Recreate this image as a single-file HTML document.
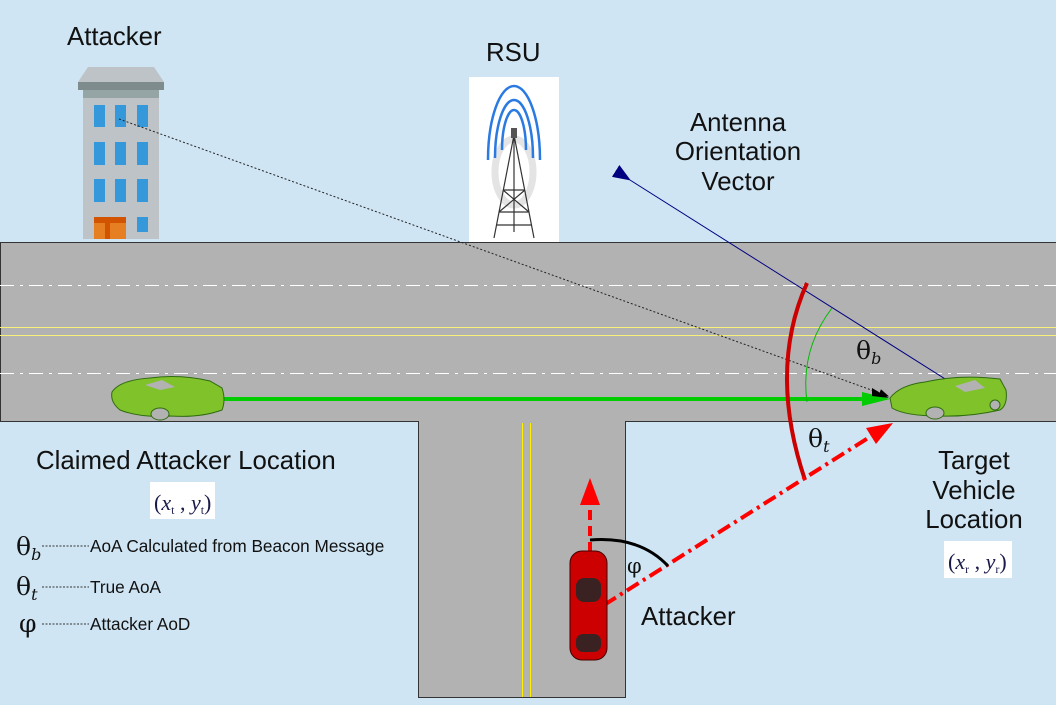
<!DOCTYPE html>
<html><head><meta charset="utf-8"><style>
body{margin:0;width:1056px;height:705px;overflow:hidden;background:#cfe5f3;font-family:"Liberation Sans",sans-serif}
svg{position:absolute;left:0;top:0}
</style></head><body>
<svg width="1056" height="705" viewBox="0 0 1056 705" font-family="Liberation Sans, sans-serif">
<defs>
<marker id="ab" markerWidth="10" markerHeight="8" refX="9" refY="4" orient="auto" markerUnits="userSpaceOnUse"><path d="M0,0 L10,4 L0,8z" fill="#000"/></marker>
<marker id="ablue" markerWidth="18" markerHeight="14" refX="1" refY="7" orient="auto" markerUnits="userSpaceOnUse"><path d="M18,0 L0,7 L18,14z" fill="#000080"/></marker>
</defs>
<rect x="0" y="0" width="1056" height="705" fill="#cfe5f3"/>
<rect x="0.5" y="242.5" width="1056" height="179" fill="#b2b2b2" stroke="#333"/>
<rect x="418.5" y="422" width="207" height="275.5" fill="#b2b2b2" stroke="#333"/>
<rect x="419" y="420" width="206" height="4" fill="#b2b2b2"/>
<line x1="0" y1="285.5" x2="1056" y2="285.5" stroke="#fff" stroke-dasharray="14,6,3,6"/>
<line x1="0" y1="373.5" x2="1056" y2="373.5" stroke="#fff" stroke-dasharray="14,6,3,6"/>
<line x1="0" y1="327.5" x2="1056" y2="327.5" stroke="#f4f07a"/>
<line x1="0" y1="335.5" x2="1056" y2="335.5" stroke="#f4f07a"/>
<line x1="522.5" y1="423" x2="522.5" y2="697" stroke="#ffee00"/>
<line x1="530.5" y1="423" x2="530.5" y2="697" stroke="#ffee00"/>
<polygon points="88,67 154,67 164,82 78,82" fill="#bec3c7"/>
<rect x="78" y="82" width="86" height="8" fill="#7f8c8d"/>
<rect x="83" y="90" width="76" height="8" fill="#95a5a6"/>
<rect x="83" y="98" width="76" height="141" fill="#bdc3c7"/>
<g fill="#3498db">
<rect x="94" y="105" width="11" height="22"/><rect x="115" y="105" width="11" height="22"/><rect x="137" y="105" width="11" height="22"/>
<rect x="94" y="142" width="11" height="23"/><rect x="115" y="142" width="11" height="23"/><rect x="137" y="142" width="11" height="23"/>
<rect x="94" y="179" width="11" height="23"/><rect x="115" y="179" width="11" height="23"/><rect x="137" y="179" width="11" height="23"/>
<rect x="137" y="217" width="11" height="15"/>
</g>
<rect x="94" y="217" width="32" height="22" fill="#e67e22"/>
<rect x="94" y="217" width="32" height="6" fill="#d35400"/>
<rect x="105" y="223" width="5" height="16" fill="#d35400"/>
<rect x="469" y="77" width="90" height="165" fill="#fff"/>
<ellipse cx="514" cy="172" rx="19" ry="33" fill="none" stroke="#e4e4e4" stroke-width="7"/>
<g fill="none" stroke="#2a7ae2" stroke-width="2.5">
<path d="M488,160 A26,74 0 1 1 540,160" />
<path d="M495,158 A19,58 0 1 1 533,158" />
<path d="M502,150 A12,40 0 1 1 526,150" />
</g>
<g stroke="#333" stroke-width="1.2" fill="none">
<line x1="514" y1="135" x2="494" y2="238"/><line x1="514" y1="135" x2="534" y2="238"/>
<line x1="514" y1="135" x2="514" y2="232"/>
<line x1="503" y1="190" x2="525" y2="190"/><line x1="499" y1="212" x2="529" y2="212"/>
<line x1="497" y1="225" x2="531" y2="225"/>
<line x1="503" y1="190" x2="529" y2="212"/><line x1="525" y1="190" x2="499" y2="212"/>
</g>
<rect x="511" y="128" width="6" height="10" fill="#555"/>
<g font-size="25.8" fill="#111">
<text x="67" y="45">Attacker</text>
<text x="486" y="61">RSU</text>
<text x="738" y="131" text-anchor="middle">Antenna</text>
<text x="738" y="160" text-anchor="middle">Orientation</text>
<text x="738" y="190" text-anchor="middle">Vector</text>
<text x="36" y="469">Claimed Attacker Location</text>
<text x="974" y="469" text-anchor="middle">Target</text>
<text x="974" y="499" text-anchor="middle">Vehicle</text>
<text x="974" y="528" text-anchor="middle">Location</text>
<text x="641" y="625">Attacker</text>
</g>
<rect x="150" y="482" width="65" height="37" fill="#fff"/>
<text x="154" y="510" font-family="Liberation Serif, serif" font-size="22" fill="#1a1a4a">(<tspan font-style="italic">x</tspan><tspan font-size="12" dy="4">t</tspan><tspan dy="-4"> , </tspan><tspan font-style="italic">y</tspan><tspan font-size="12" dy="4">t</tspan><tspan dy="-4">)</tspan></text>
<rect x="944" y="541" width="68" height="37" fill="#fff"/>
<text x="948" y="569" font-family="Liberation Serif, serif" font-size="22" fill="#1a1a4a">(<tspan font-style="italic">x</tspan><tspan font-size="12" dy="4">r</tspan><tspan dy="-4"> , </tspan><tspan font-style="italic">y</tspan><tspan font-size="12" dy="4">r</tspan><tspan dy="-4">)</tspan></text>
<g font-family="DejaVu Serif, serif" font-size="25" fill="#111">
<text x="16" y="555">θ<tspan font-size="16" font-style="italic" dy="5">b</tspan></text>
<text x="16" y="595">θ<tspan font-size="16" font-style="italic" dy="5">t</tspan></text>
<text x="19" y="632">φ</text>
<text x="856" y="359">θ<tspan font-size="16" font-style="italic" dy="5">b</tspan></text>
<text x="808" y="447">θ<tspan font-size="16" font-style="italic" dy="5">t</tspan></text>
<text x="627" y="573" font-size="21">φ</text>
</g>
<g stroke="#333" stroke-dasharray="2,1.5" stroke-width="1">
<line x1="42" y1="546" x2="89" y2="546"/><line x1="42" y1="587" x2="89" y2="587"/><line x1="42" y1="624" x2="89" y2="624"/>
</g>
<g font-size="17.2" fill="#111">
<text x="90" y="552">AoA Calculated from Beacon Message</text>
<text x="90" y="593">True AoA</text>
<text x="90" y="630">Attacker AoD</text>
</g>
<line x1="119" y1="119" x2="888" y2="396" stroke="#222" stroke-dasharray="2,2" marker-end="url(#ab)"/>
<line x1="222" y1="399" x2="870" y2="399" stroke="#00cc00" stroke-width="4"/>
<polygon points="862,392 890,399 862,406" fill="#00cc00"/>
<polygon points="872,388 889,398 872,396" fill="#000"/>
<line x1="950" y1="382" x2="630" y2="180" stroke="#000080" stroke-width="1" marker-end="url(#ablue)"/>
<path d="M807,283 Q768,370 805,480" fill="none" stroke="#cc0000" stroke-width="4"/>
<path d="M832,308 Q800,350 807,402" fill="none" stroke="#00bb00" stroke-width="1"/>
<line x1="604" y1="605" x2="876" y2="433" stroke="#ff0000" stroke-width="4" stroke-dasharray="14,5,3,5"/>
<polygon points="893,423 866,428 876,444" fill="#ff0000"/>
<line x1="590" y1="600" x2="590" y2="502" stroke="#ff0000" stroke-width="4" stroke-dasharray="10,6"/>
<polygon points="580,505 590,478 600,505" fill="#ff0000"/>
<path d="M590,540 Q640,536 668,566" fill="none" stroke="#000" stroke-width="3"/>
<rect x="570" y="551" width="37" height="109" rx="12" fill="#cc0000" stroke="#400" stroke-width="1"/>
<rect x="576" y="578" width="25" height="24" rx="8" fill="#3a2222"/>
<rect x="576" y="634" width="25" height="18" rx="7" fill="#3a2222"/>
<g>
<path d="M112,392 Q120,380 150,378 Q180,374 210,381 L222,388 Q226,400 222,410 Q200,418 170,416 Q140,418 120,410 Q110,402 112,392z" fill="#7fc22a" stroke="#2f6b10"/>
<ellipse cx="160" cy="414" rx="9" ry="6" fill="#b2b2b2" stroke="#2f6b10"/>
<path d="M145,385 L162,380 L175,387 L160,390z" fill="#b2b2b2"/>
<path d="M890,398 Q900,385 925,382 Q960,374 1000,379 L1006,390 Q1008,405 1000,410 Q970,417 940,416 Q905,416 892,408z" fill="#7fc22a" stroke="#2f6b10"/>
<ellipse cx="935" cy="413" rx="9" ry="6" fill="#b2b2b2" stroke="#2f6b10"/>
<ellipse cx="995" cy="405" rx="5" ry="5" fill="#b2b2b2" stroke="#2f6b10"/>
<path d="M955,386 L975,380 L985,388 L965,392z" fill="#b2b2b2"/>
</g>
</svg>
</body></html>
